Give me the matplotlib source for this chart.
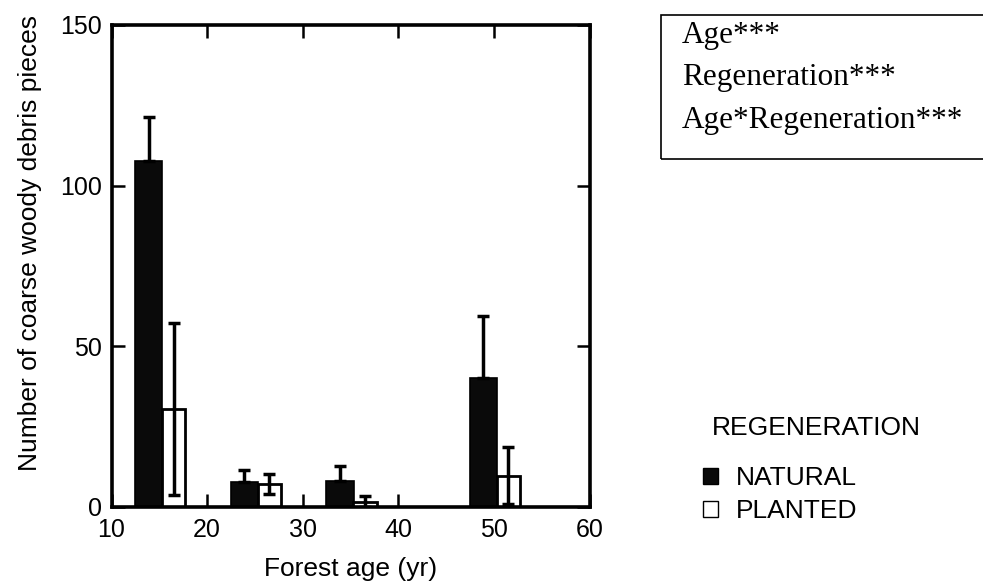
import matplotlib
matplotlib.use("Agg")
import matplotlib.pyplot as plt
from matplotlib.patches import Patch, Rectangle

plt.rcParams['font.family'] = ['Liberation Sans', 'DejaVu Sans']

# Dane
ages = [15, 25, 35, 50]
natural_mean = [107.8, 7.8, 8.2, 40.1]
natural_err = [13.5, 3.8, 4.6, 19.4]
planted_mean = [30.5, 7.2, 1.7, 9.7]
planted_err = [26.7, 3.0, 1.6, 8.9]
stats_lines = ["Age***", "Regeneration***", "Age*Regeneration***"]
legend_labels = ["NATURAL", "PLANTED"]

W, H = 983, 585
fig = plt.figure(figsize=(W / 100, H / 100), dpi=100)
ax = fig.add_axes([111.5 / W, 1 - 507 / H, (589.5 - 111.5) / W, (507 - 25) / H])

nat_x = [a - 1.1 for a in ages]
pl_x = [a + 1.5 for a in ages]

ax.bar(nat_x, natural_mean, width=2.85, color='#0a0a0a', edgecolor='black', linewidth=1.2, zorder=2)
ax.errorbar(nat_x, natural_mean, yerr=[[0] * 4, natural_err], fmt='none', ecolor='black',
            elinewidth=2.5, capsize=4, capthick=2.5, zorder=3)
ax.bar(pl_x, planted_mean, width=2.45, color='white', edgecolor='black', linewidth=2, zorder=2)
ax.errorbar(pl_x, planted_mean, yerr=planted_err, fmt='none', ecolor='black',
            elinewidth=2.5, capsize=4, capthick=2.5, zorder=3)

ax.set_xlim(10, 60)
ax.set_ylim(0, 150)
ax.set_xticks([10, 20, 30, 40, 50, 60])
ax.set_yticks([0, 50, 100, 150])
ax.tick_params(direction='in', top=True, right=True, length=9.5, width=1.8,
               labelsize=18, pad=7)
ax.tick_params(axis='x', pad=8)
for s in ax.spines.values():
    s.set_linewidth(2.6)
    s.set_zorder(4)

ax.set_xlabel("Forest age (yr)", fontsize=19, labelpad=11)
fig.text(30 / W, 1 - 243 / H, "Number of coarse woody debris pieces", rotation=90,
         fontsize=19, ha='center', va='center')

# Ramka ze statystykami
fig.add_artist(Rectangle((661 / W, 1 - 159 / H), 360 / W, 144 / H, transform=fig.transFigure,
                         fill=False, edgecolor='black', linewidth=1.2))
for i, line in enumerate(stats_lines):
    fig.text(682 / W, 1 - (43 + 42.5 * i) / H, line, fontsize=22.5, family='Liberation Serif',
             va='baseline', ha='left')

# Legenda
fig.text(712 / W, 1 - 428 / H, "REGENERATION", fontsize=19, ha='left', va='center')
handles = [Patch(facecolor='#0a0a0a', edgecolor='black'),
           Patch(facecolor='white', edgecolor='black', linewidth=1)]
fig.legend(handles, legend_labels, loc='upper left', bbox_to_anchor=(703 / W, 1 - 466 / H),
           frameon=False, fontsize=19, handlelength=0.55, handleheight=0.55,
           handletextpad=0.7, labelspacing=0.34, borderpad=0, borderaxespad=0)

fig.savefig("out.png", dpi=100)
